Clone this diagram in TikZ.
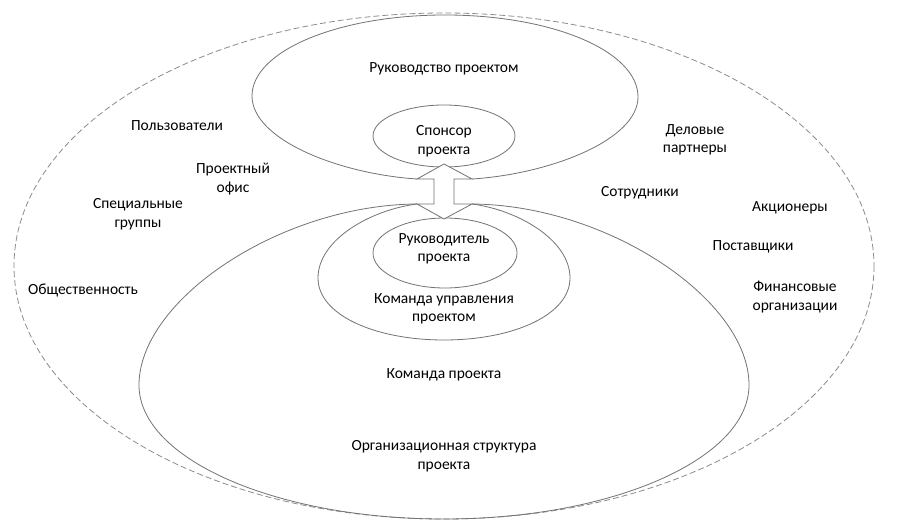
\documentclass[tikz,border=0pt]{standalone}
\usepackage{fontspec}
\setmainfont{Carlito}
\begin{document}
\begin{tikzpicture}[x=1pt,y=-1pt,
  lbl/.style={align=center,font=\fontsize{15.5}{18.5}\selectfont,text=black,inner sep=1pt},
  ring/.style={draw=black!55,line width=0.8pt},
  outer/.style={draw=black!45,line width=0.8pt,dash pattern=on 6pt off 3pt}]
\useasboundingbox[fill=white] (0,0) rectangle (899,529);
% outer dashed ellipse
\draw[outer] (444,266) ellipse [x radius=430, y radius=253];
% upper shape
\draw[ring] (417,179) .. controls (340,174) and (252,140) .. (252,96)
  .. controls (252,51) and (338,15) .. (445,15)
  .. controls (552,15) and (638,51) .. (638,97)
  .. controls (638,140) and (550,174) .. (472,179);
% big lower shape
\draw[ring] (417,204) .. controls (280,205) and (139,300) .. (139,385)
  .. controls (139,459) and (276,519) .. (444,519)
  .. controls (612,519) and (749,459) .. (749,385)
  .. controls (749,300) and (608,205) .. (472,204);
% middle lower shape
\draw[ring] (417,204) .. controls (370,210) and (318,240) .. (318,278)
  .. controls (318,315) and (375,340) .. (444,340)
  .. controls (513,340) and (570,315) .. (570,278)
  .. controls (570,240) and (518,210) .. (472,204);
% small ellipses
\draw[ring] (444,136) ellipse [x radius=71, y radius=31];
\draw[ring] (445,253) ellipse [x radius=72, y radius=35];
% double arrow
\draw[ring,fill=white] (444,164) -- (472,179) -- (454,179) -- (454,204) -- (472,204)
  -- (444,219) -- (417,204) -- (434,204) -- (434,179) -- (417,179) -- cycle;
% labels
\node[lbl] (rp) at (444,69) {Руководство проектом};
\node[lbl] (sp) at (444,141) {Спонсор\\проекта};
\node[lbl] (rk) at (444,249) {Руководитель\\проекта};
\node[lbl] (ku) at (444,309) {Команда управления\\проектом};
\node[lbl] (kp) at (444,375) {Команда проекта};
\node[lbl] (os) at (444,456) {Организационная структура\\проекта};
\node[lbl] (pol) at (177,126) {Пользователи};
\node[lbl] (po) at (233,179) {Проектный\\офис};
\node[lbl] (sg) at (138,214) {Специальные\\группы};
\node[lbl] (ob) at (83,290) {Общественность};
\node[lbl] (dp) at (695,140) {Деловые\\партнеры};
\node[lbl] (so) at (640,193) {Сотрудники};
\node[lbl] (ak) at (790,208) {Акционеры};
\node[lbl] (ps) at (753,247) {Поставщики};
\node[lbl] (fo) at (795,297) {Финансовые\\организации};
\end{tikzpicture}
\end{document}
